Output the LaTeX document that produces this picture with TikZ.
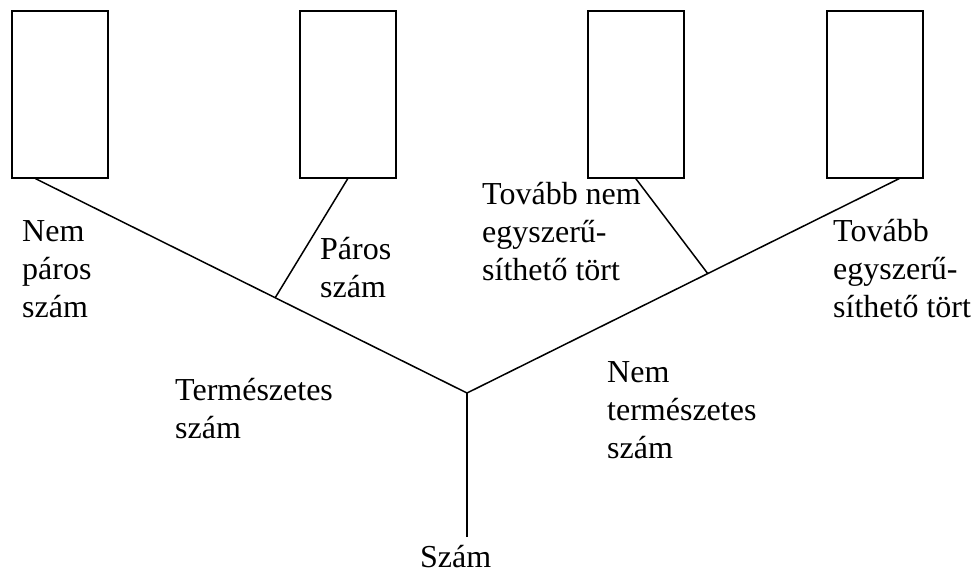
\documentclass[tikz,border=0pt]{standalone}
\usepackage{fontspec}
\setmainfont{Liberation Serif}
\usetikzlibrary{calc}
\begin{document}
\begin{tikzpicture}[x=1pt,y=-1pt,
  leaf/.style={draw,line width=1.6pt,minimum width=96pt,minimum height=167pt,inner sep=0pt,anchor=north west},
  branch/.style={line width=1.5pt},
  lbl/.style={anchor=base west,inner sep=0pt,align=left,font=\fontsize{32}{38}\selectfont}]
\useasboundingbox (0,0) rectangle (974,573);
% the four empty boxes on top
\node[leaf] (b1) at (11,10) {};
\node[leaf] (b2) at (299,10) {};
\node[leaf] (b3) at (587,10) {};
\node[leaf] (b4) at (826,10) {};
% attachment points on the box bottoms
\coordinate (e1) at ($(b1.south west)!0.25!(b1.south east)$);
\coordinate (e2) at (b2.south);
\coordinate (e3) at (b3.south);
\coordinate (e4) at ($(b4.south west)!0.75!(b4.south east)$);
% junctions of the tree
\coordinate (root) at (467,393);
\coordinate (bottom) at (467,537);
\coordinate (jl) at ($(e1)!0.5556!(root)$);
\coordinate (jr) at ($(e4)!0.443!(root)$);
% branches
\draw[branch] (bottom) -- (root);
\draw[branch] (root) -- (e1);
\draw[branch] (root) -- (e4);
\draw[branch] (jl) -- (e2);
\draw[branch] (jr) -- (e3);
% labels (placed at the baseline of their last line)
\node[lbl] (t1) at (22,317) {Nem\\páros\\szám};
\node[lbl] (t2) at (320,297) {Páros\\szám};
\node[lbl] (t3) at (175,438) {Természetes\\szám};
\node[lbl] (t4) at (482,280) {Tovább nem\\egyszerű-\\síthető tört};
\node[lbl] (t5) at (833,317) {Tovább\\egyszerű-\\síthető tört};
\node[lbl] (t6) at (607,458) {Nem\\természetes\\szám};
\node[lbl] (t7) at (420,567) {Szám};
\end{tikzpicture}
\end{document}
